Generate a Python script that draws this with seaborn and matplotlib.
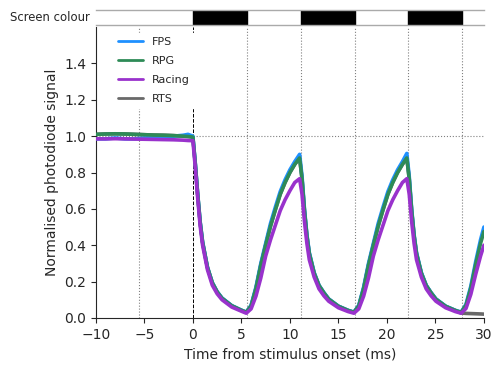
import pandas as pd
import seaborn as sns
import matplotlib.pyplot as plt

# time axis (ms)
time_ms = [-10, -9, -8, -7, -6, -5, -4, -3, -2, -1, -0.5,
           0, 0.25, 0.5, 0.75, 1.0, 1.5, 2.0, 2.5, 3.0, 4.0, 5.0,
           5.5, 6.0, 6.5, 7.0, 7.5, 8.0, 8.5, 9.0, 9.5, 10.0, 10.5,
           11.0, 11.25, 11.5, 11.75, 12.0, 12.5, 13.0, 13.5, 14.0, 15.0, 16.0,
           16.6, 17.1, 17.6, 18.1, 18.6, 19.1, 19.6, 20.1, 20.6, 21.1, 21.6,
           22.05, 22.3, 22.55, 22.8, 23.05, 23.55, 24.05, 24.55, 25.05, 26.05, 27.05,
           27.65, 28.15, 28.65, 29.15, 29.65, 30.0]

fps = [0.985, 0.985, 0.99, 0.985, 0.985, 0.99, 0.99, 0.995, 1.0, 1.005, 1.01,
       1.0, 0.85, 0.68, 0.53, 0.42, 0.28, 0.195, 0.145, 0.11, 0.068, 0.043,
       0.032, 0.07, 0.17, 0.3, 0.41, 0.52, 0.61, 0.695, 0.76, 0.815, 0.86,
       0.9, 0.78, 0.6, 0.46, 0.36, 0.25, 0.18, 0.14, 0.105, 0.065, 0.042,
       0.032, 0.07, 0.17, 0.3, 0.41, 0.52, 0.61, 0.695, 0.76, 0.815, 0.86,
       0.905, 0.78, 0.6, 0.46, 0.36, 0.25, 0.18, 0.14, 0.105, 0.065, 0.042,
       0.032, 0.075, 0.175, 0.31, 0.43, 0.5]

rpg = [1.01, 1.012, 1.013, 1.012, 1.01, 1.008, 1.006, 1.005, 1.003, 1.0, 0.998,
       0.995, 0.845, 0.675, 0.525, 0.415, 0.278, 0.193, 0.143, 0.108, 0.067, 0.042,
       0.031, 0.066, 0.162, 0.29, 0.4, 0.505, 0.595, 0.68, 0.745, 0.8, 0.845,
       0.88, 0.765, 0.59, 0.452, 0.354, 0.246, 0.178, 0.138, 0.103, 0.064, 0.041,
       0.031, 0.066, 0.162, 0.29, 0.4, 0.505, 0.595, 0.68, 0.745, 0.8, 0.845,
       0.88, 0.765, 0.59, 0.452, 0.354, 0.246, 0.178, 0.138, 0.103, 0.064, 0.041,
       0.031, 0.07, 0.165, 0.295, 0.41, 0.475]

racing = [0.985, 0.985, 0.986, 0.985, 0.984, 0.983, 0.982, 0.981, 0.98, 0.978, 0.976,
          0.975, 0.825, 0.655, 0.505, 0.4, 0.265, 0.18, 0.133, 0.1, 0.06, 0.037,
          0.026, 0.05, 0.12, 0.22, 0.34, 0.43, 0.51, 0.59, 0.65, 0.7, 0.745,
          0.766, 0.68, 0.53, 0.41, 0.32, 0.225, 0.16, 0.122, 0.092, 0.056, 0.035,
          0.026, 0.05, 0.12, 0.22, 0.34, 0.43, 0.51, 0.59, 0.65, 0.7, 0.745,
          0.766, 0.68, 0.53, 0.41, 0.32, 0.225, 0.16, 0.122, 0.092, 0.056, 0.035,
          0.026, 0.052, 0.13, 0.24, 0.34, 0.40]

rts = [1.01, 1.012, 1.013, 1.012, 1.01, 1.008, 1.006, 1.005, 1.003, 1.0, 0.998,
       0.995, 0.845, 0.675, 0.525, 0.415, 0.278, 0.193, 0.143, 0.108, 0.067, 0.042,
       0.031, 0.066, 0.162, 0.29, 0.4, 0.505, 0.595, 0.68, 0.745, 0.8, 0.845,
       0.88, 0.765, 0.59, 0.452, 0.354, 0.246, 0.178, 0.138, 0.103, 0.064, 0.041,
       0.031, 0.066, 0.162, 0.29, 0.4, 0.505, 0.595, 0.68, 0.745, 0.8, 0.845,
       0.88, 0.765, 0.59, 0.452, 0.354, 0.246, 0.178, 0.138, 0.103, 0.064, 0.041,
       0.027, 0.025, 0.024, 0.023, 0.022, 0.021]

genres = ['FPS', 'RPG', 'Racing', 'RTS']
colours = {'FPS': '#1E90FF', 'RPG': '#2E8B57', 'Racing': '#9932CC', 'RTS': '#696969'}

# screen flips (ms): black frames start / end
frame_edges = [-5.556, 0, 5.556, 11.111, 16.667, 22.222, 27.778]
black_start = [0, 11.111, 22.222]
black_end = [5.556, 16.667, 27.778]

df = pd.DataFrame({'time': time_ms * 4,
                   'signal': fps + rpg + racing + rts,
                   'genre': ['FPS'] * len(fps) + ['RPG'] * len(rpg) + ['Racing'] * len(racing) + ['RTS'] * len(rts)})

sns.set_style('ticks')
fig = plt.figure(figsize=(5.02, 3.71), dpi=100)
ax = fig.add_axes([0.191, 0.143, 0.773, 0.784])
ax_top = fig.add_axes([0.191, 0.933, 0.773, 0.040])

# grid of frame flips
for x in frame_edges:
    if x == 0:
        ax.axvline(x, color='black', linestyle='--', lw=0.7, zorder=1)
    else:
        ax.axvline(x, color='gray', linestyle=':', lw=0.8, zorder=1)
ax.axhline(1.0, color='gray', linestyle=':', lw=0.8, zorder=1)

# RTS underneath, the rest on top
sns.lineplot(data=df[df.genre == 'RTS'], x='time', y='signal', color=colours['RTS'],
             label='RTS', lw=2.6, estimator=None, ax=ax, zorder=2)
sns.lineplot(data=df[df.genre != 'RTS'], x='time', y='signal', hue='genre',
             hue_order=['FPS', 'RPG', 'Racing'], palette=colours, lw=2.6,
             estimator=None, ax=ax, zorder=3)

handles, labels = ax.get_legend_handles_labels()
order = [labels.index(g) for g in genres]
leg = ax.legend([handles[i] for i in order], genres, loc='upper left', bbox_to_anchor=(0.03, 1.0),
                fontsize=8, frameon=True, framealpha=1, edgecolor='white', fancybox=False,
                labelspacing=0.8, handlelength=2.3, handletextpad=0.75)
for line in leg.get_lines():
    line.set_linewidth(2)
leg.set_zorder(5)

ax.set_xlim(-10, 30)
ax.set_ylim(0, 1.6)
ax.set_yticks([0, 0.2, 0.4, 0.6, 0.8, 1.0, 1.2, 1.4])
ax.set_xticks([-10, -5, 0, 5, 10, 15, 20, 25, 30])
ax.set_xlabel('Time from stimulus onset (ms)', fontsize=10)
ax.set_ylabel('Normalised photodiode signal', fontsize=10)
ax.tick_params(labelsize=10)
sns.despine(ax=ax)

# screen colour strip
for s, e in zip(black_start, black_end):
    ax_top.axvspan(s, e, color='black')
ax_top.set_xlim(-10, 30)
ax_top.set_ylim(0, 1)
ax_top.set_xticks([])
ax_top.set_yticks([])
for side in ['left', 'right']:
    ax_top.spines[side].set_visible(False)
for side in ['top', 'bottom']:
    ax_top.spines[side].set_color('#aaaaaa')
    ax_top.spines[side].set_linewidth(1)
ax_top.text(-0.015, 0.5, 'Screen colour', transform=ax_top.transAxes,
            ha='right', va='center', fontsize=8.4)

plt.savefig('out.png', dpi=100)
